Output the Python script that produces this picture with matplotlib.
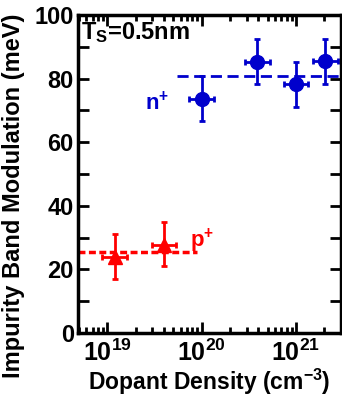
import numpy as np
import matplotlib.pyplot as plt
from matplotlib.ticker import FuncFormatter

plt.rcParams['font.family'] = ['Liberation Sans', 'DejaVu Sans']
plt.rcParams['font.weight'] = 'bold'
plt.rcParams['mathtext.fontset'] = 'custom'
plt.rcParams['mathtext.rm'] = 'Liberation Sans:bold'
plt.rcParams['mathtext.bf'] = 'Liberation Sans:bold'
plt.rcParams['mathtext.default'] = 'bf'

# n+ data
n_density = [1.0e20, 3.9e20, 1.0e21, 2.05e21]
n_mod = [73.7, 85.3, 78.2, 85.4]
n_yerr_lo = [6.9, 7.0, 7.0, 7.1]
n_yerr_hi = [7.1, 7.1, 7.0, 7.1]
n_xfrac = 0.35
n_mean = 80.8
n_line_x = [5.5e19, 3.0e21]

# p+ data
p_density = [1.2e19, 4.0e19]
p_mod = [24.0, 27.8]
p_yerr_lo = [7.0, 6.8]
p_yerr_hi = [7.0, 7.2]
p_xfrac = 0.35
p_mean = 25.6
p_line_x = [4.9e18, 9.0e19]

blue = '#0000cc'
red = '#ff0000'

fig = plt.figure(figsize=(3.42, 3.96), dpi=100)
ax = fig.add_axes([78 / 342, 63 / 396, 263 / 342, 318 / 396])

def xerr(xs, frac):
    xs = np.array(xs)
    return [xs - xs / (1 + frac), xs * frac]

ax.plot(n_line_x, [n_mean, n_mean], '--', color=blue, lw=2, dashes=(4, 2))
ax.plot(p_line_x, [p_mean, p_mean], ':', color=red, lw=2.5, dashes=(2, 1))

ax.errorbar(n_density, n_mod, yerr=[n_yerr_lo, n_yerr_hi], xerr=xerr(n_density, n_xfrac),
            fmt='o', color=blue, ms=10, elinewidth=2, capsize=2.5, capthick=2)
ax.errorbar(p_density, p_mod, yerr=[p_yerr_lo, p_yerr_hi], xerr=xerr(p_density, p_xfrac),
            fmt='^', color=red, ms=10, elinewidth=2, capsize=2.5, capthick=2)

ax.set_xscale('log')
ax.set_xlim(4.9e18, 3.0e21)
ax.set_ylim(0, 100)
ax.set_yticks(np.arange(0, 101, 20))
ax.set_yticks(np.arange(10, 100, 20), minor=True)
ax.xaxis.set_major_formatter(FuncFormatter(lambda v, p: '$10^{%d}$' % round(np.log10(v))))
ax.tick_params(which='both', direction='in', top=True, right=True, width=2)
ax.tick_params(axis='y', which='both', length=8, labelsize=17, pad=3)
ax.tick_params(axis='x', which='major', length=8, labelsize=18, pad=5)
ax.tick_params(axis='x', which='minor', length=4)
for s in ax.spines.values():
    s.set_linewidth(2.5)

ax.set_xlabel('Dopant Density (cm$^{-3}$)', fontsize=16.5, fontweight='bold', labelpad=0)
ax.set_ylabel('Impurity Band Modulation (meV)', fontsize=17, fontweight='bold')
ax.yaxis.set_label_coords(-0.2, 0.43)

ax.text(0.01, 0.985, 'T$_{S}$=0.5nm', transform=ax.transAxes, fontsize=17,
        fontweight='bold', va='top', ha='left')
ax.text(2.5e19, 70, 'n$^{+}$', color=blue, fontsize=16, fontweight='bold')
ax.text(7.6e19, 27, 'p$^{+}$', color=red, fontsize=16, fontweight='bold')

fig.savefig('out.png', dpi=100)
